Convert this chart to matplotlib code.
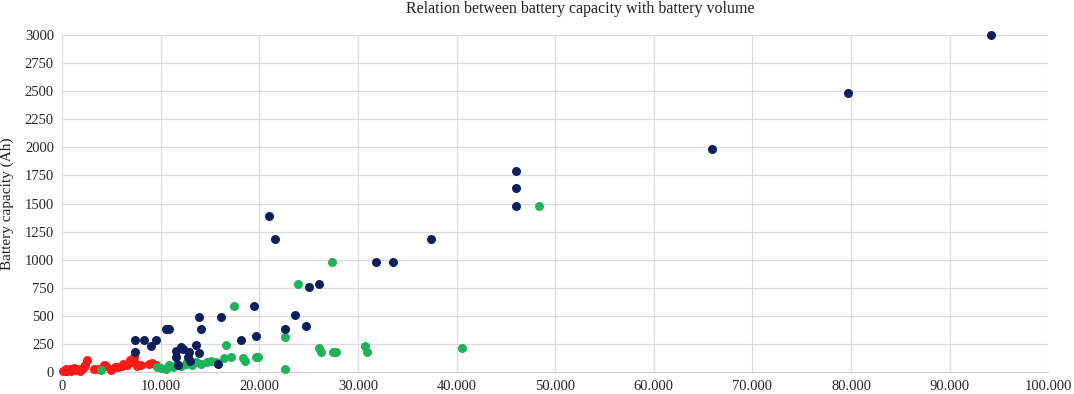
import matplotlib
matplotlib.use("Agg")
import matplotlib.pyplot as plt
from matplotlib.ticker import FuncFormatter, MultipleLocator

# navy group
navy_x = [94200, 79700, 65900, 46000, 46000, 46000, 37400, 33500, 31800, 21000,
          21600, 26000, 25000, 23600, 24700, 22600, 19400, 19600, 18100, 16100,
          13900, 14100, 10500, 10800, 7400, 8300, 9500, 9000, 7400, 12000,
          13600, 11500, 12900, 13900, 11500, 12700, 13000, 11700, 15800, 12200]
navy_y = [3000, 2485, 1985, 1785, 1635, 1480, 1180, 975, 975, 1385,
          1180, 785, 755, 510, 410, 380, 585, 320, 285, 490,
          490, 380, 380, 380, 285, 285, 285, 235, 180, 225,
          240, 185, 180, 165, 135, 135, 95, 60, 75, 200]

# green group
green_x = [3900, 9600, 10000, 10500, 11200, 11600, 12000, 12500, 13200, 13600,
           14100, 14700, 15100, 15600, 16400, 16600, 17100, 17400, 18300, 18500,
           19600, 19900, 22600, 22600, 23900, 26000, 26200, 27400, 27500, 27800,
           30700, 30900, 40500, 48400, 10800, 12600]
green_y = [15, 45, 35, 30, 45, 70, 55, 75, 60, 85,
           75, 90, 95, 90, 120, 240, 135, 585, 120, 100,
           135, 135, 315, 25, 785, 210, 175, 975, 180, 180,
           230, 180, 210, 1480, 60, 90]

# red group
red_x = [100, 300, 500, 700, 900, 1100, 1300, 1500, 1800, 2000,
         2200, 2300, 2500, 3200, 3600, 4200, 4400, 4900, 5300, 5600,
         6100, 6200, 6600, 6900, 7100, 7300, 7400, 7600, 8000, 8800,
         9100, 9500, 400, 800, 1200]
red_y = [5, 10, 5, 15, 10, 20, 15, 25, 5, 30,
         47, 60, 105, 30, 25, 60, 50, 18, 40, 47,
         53, 75, 62, 110, 90, 135, 77, 55, 62, 75,
         77, 62, 25, 30, 35]

navy = "#0b1f5c"
green = "#1db35a"
red = "#ff1a1a"

plt.rcParams["font.family"] = ["Liberation Serif", "DejaVu Serif"]

fig = plt.figure(figsize=(10.74, 3.94), dpi=100)
ax = fig.add_axes([0.058, 0.056, 0.918, 0.855])

ax.scatter(red_x, red_y, s=42, color=red, zorder=3, linewidths=0, clip_on=False)
ax.scatter(green_x, green_y, s=42, color=green, zorder=4, linewidths=0, clip_on=False)
ax.scatter(navy_x, navy_y, s=42, color=navy, zorder=5, linewidths=0, clip_on=False)

ax.set_xlim(0, 100000)
ax.set_ylim(0, 3000)
ax.xaxis.set_major_locator(MultipleLocator(10000))
ax.yaxis.set_major_locator(MultipleLocator(250))
ax.xaxis.set_major_formatter(FuncFormatter(lambda v, p: f"{int(v):,}".replace(",", ".")))

ax.grid(True, color="#dcdcdc", linewidth=0.9, zorder=0)
ax.set_axisbelow(True)
for side in ["top", "right", "left"]:
    ax.spines[side].set_visible(False)
ax.spines["bottom"].set_color("#d0d0d0")
ax.tick_params(length=0, labelsize=10.5, colors="#262626", pad=6)

ax.set_ylabel("Battery capacity (Ah)", fontsize=11, color="#222222", labelpad=8)
fig.text(0.54, 0.977, "Relation between battery capacity with battery volume",
         ha="center", va="center", fontsize=11.5, color="#222222")

fig.savefig("out.png", dpi=100)
